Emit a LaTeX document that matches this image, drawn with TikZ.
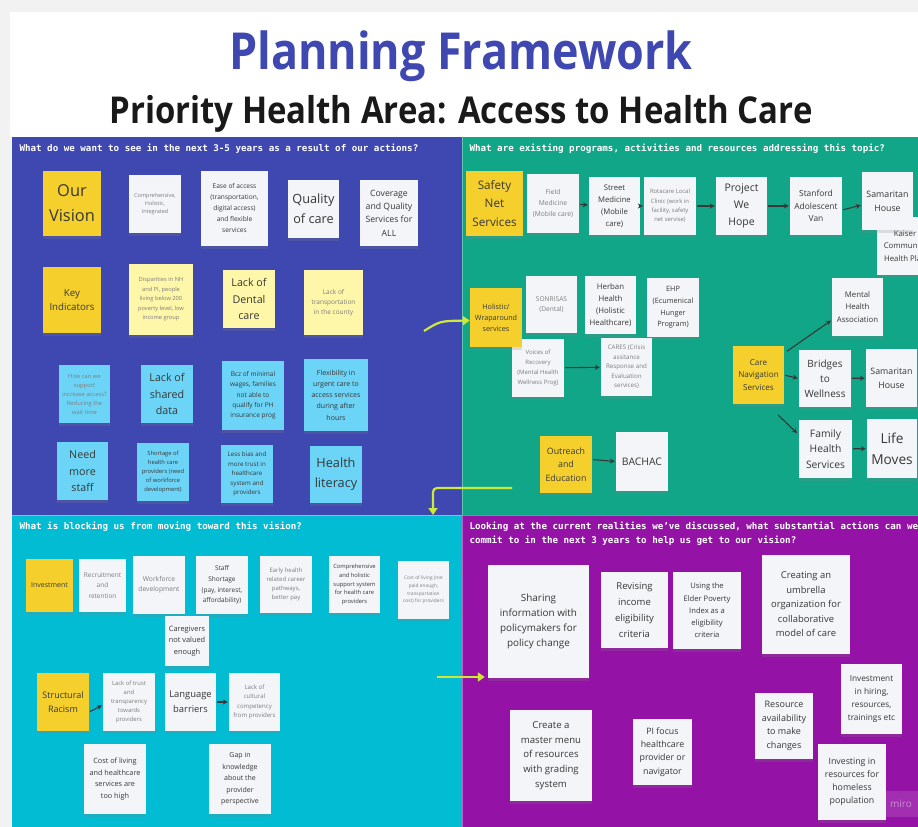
\documentclass[tikz,border=0pt]{standalone}
\usepackage{fontspec}
\setmainfont{Open Sans}
\newfontfamily\headfont{DejaVu Sans Mono}
\usepackage{graphicx}
\usepackage{tikz}
\usetikzlibrary{arrows.meta, shadows, positioning}

\definecolor{visionblue}{RGB}{63,72,176}
\definecolor{progteal}{RGB}{17,166,136}
\definecolor{blockcyan}{RGB}{2,188,212}
\definecolor{actpurple}{RGB}{148,19,166}
\definecolor{stickyyellow}{RGB}{245,208,45}
\definecolor{paleyellow}{RGB}{254,246,168}
\definecolor{skyblue}{RGB}{108,213,247}
\definecolor{paper}{RGB}{244,245,248}
\definecolor{limearrow}{RGB}{206,232,58}
\definecolor{inkdark}{RGB}{55,55,55}
\definecolor{inklight}{RGB}{125,125,125}
\definecolor{margin}{RGB}{242,242,242}

\newcommand\fs[2]{\fontsize{#1}{#2}\selectfont}

\tikzset{
  sticky/.style={inner sep=1pt, align=center, text=inkdark,
    drop shadow={shadow xshift=0pt, shadow yshift=-3pt, opacity=0.22}},
  yel/.style={sticky, fill=stickyyellow},
  pale/.style={sticky, fill=paleyellow},
  sky/.style={sticky, fill=skyblue},
  wht/.style={sticky, fill=paper},
  faint/.style={text=inklight},
  sz/.style 2 args={minimum width=#1pt, minimum height=#2pt},
  link/.style={-{Stealth[length=5pt,width=5pt]}, line width=1.1pt, draw=inkdark,
    shorten <=1pt, shorten >=1pt},
  flow/.style={-{Triangle[length=7pt,width=9pt]}, line width=2.2pt, draw=limearrow},
  question/.style={anchor=west, text=white, align=left,
    font=\headfont\bfseries\fs{9.2}{14}},
}

\begin{document}
\begin{tikzpicture}[x=1pt, y=-1pt]
    \useasboundingbox (0,0) rectangle (918,827);
    \clip (0,0) rectangle (918,827);

    % Page and title strip
    \fill[margin] (0,0) rectangle (918,827);
    \fill[white] (10,12) rectangle (918,137);
    \node[font=\bfseries\fs{51}{56}, text=visionblue] (title) at (461,56)
        {\scalebox{0.88}[1]{Planning Framework}};
    \node[font=\bfseries\fs{37}{40}, text=black!90] (subtitle) at (461,114)
        {\scalebox{0.89}[1]{Priority Health Area: Access to Health Care}};

    % Four quadrants
    \fill[visionblue] (12,137) rectangle (462,515);
    \fill[progteal] (462,137) rectangle (918,515);
    \fill[blockcyan] (12,515) rectangle (462,827);
    \fill[actpurple] (462,515) rectangle (918,827);
    \draw[white, opacity=0.35, line width=0.7pt] (462,137) -- (462,827) (12,515) -- (918,515);

    \node[question] (q1) at (16,149) {What do we want to see in the next 3-5 years as a result of our actions?};
    \node[question] (q2) at (466,149) {What are existing programs, activities and resources addressing this topic?};
    \node[question] (q3) at (16,527) {What is blocking us from moving toward this vision?};
    \node[question] (q4) at (466,534) {Looking at the current realities we’ve discussed, what substantial actions can we\\commit to in the next 3 years to help us get to our vision?};

    % Vision: row one
    \node[yel, sz={58}{65}, font=\fs{16.4}{25}] (vision) at (72,203.5) {Our\\Vision};
    \node[wht, faint, sz={52}{58}, font=\fs{5.5}{8.3}] (holistic) at (155,204) {Comprehensive,\\Holistic,\\Integrated};
    \node[wht, sz={67}{75}, font=\fs{6.6}{11}] (ease) at (234.5,208.5) {Ease of access\\(transportation,\\digital access)\\and flexible\\services};
    \node[wht, sz={51}{58}, font=\fs{12.7}{20}] (quality) at (313.5,209) {Quality\\of care};
    \node[wht, sz={58}{66}, font=\fs{8.7}{13.3}] (coverage) at (389,213) {Coverage\\and Quality\\Services for\\ALL};

    % Vision: indicators
    \node[yel, sz={58}{66}, font=\fs{9.7}{14.7}] (indicators) at (72,300) {Key\\Indicators};
    \node[pale, faint, sz={64}{71}, font=\fs{5.7}{9.5}] (disparities) at (161,299.5) {Disparities in NH\\and PI, people\\living below 200\\poverty level, low\\income group};
    \node[pale, sz={52}{58}, font=\fs{10.7}{16.2}] (dental) at (249,299) {Lack of\\Dental\\care};
    \node[pale, faint, sz={59}{65}, font=\fs{6.5}{9.8}] (transport) at (333.5,302.5) {Lack of\\transportation\\in the county};

    \node[sky, faint, sz={51}{58}, font=\fs{5.8}{9}] (waittime) at (84.5,394) {How can we\\support\\increase access?\\Reducing the\\wait time};
    \node[sky, sz={52}{58}, font=\fs{10.7}{16.2}] (shared) at (167,394) {Lack of\\shared\\data};
    \node[sky, sz={62}{69}, font=\fs{6.5}{10.25}] (wages) at (253,395.5) {Bcz of minimal\\wages, families\\not able to\\qualify for PH\\insurance prog};
    \node[sky, sz={64}{72}, font=\fs{7}{11.25}] (urgent) at (336,395) {Flexibility in\\urgent care to\\access services\\during after\\hours};

    \node[sky, sz={51}{58}, font=\fs{10.7}{16.2}] (staff) at (82.5,471) {Need\\more\\staff};
    \node[sky, sz={52}{58}, font=\fs{5.8}{8.9}] (shortage) at (163,472) {Shortage of\\health care\\providers (need\\of workforce\\development)};
    \node[sky, sz={52}{58}, font=\fs{6.2}{9.6}] (bias) at (247,474) {Less bias and\\more trust in\\healthcare\\system and\\providers};
    \node[sky, sz={52}{57}, font=\fs{12.7}{20}] (literacy) at (336,474.5) {Health\\literacy};

    % Programs: safety net chain
    \node[yel, sz={57}{65}, font=\fs{11.7}{18.3}] (safety) at (494.5,203.5) {Safety\\Net\\Services};
    \node[wht, faint, sz={52}{59}, font=\fs{6.7}{10.7}] (field) at (553,203.5) {Field\\Medicine\\(Mobile care)};
    \node[wht, sz={51}{58}, font=\fs{7.7}{12.1}] (street) at (614.5,206) {Street\\Medicine\\(Mobile\\care)};
    \node[wht, faint, sz={52}{58}, font=\fs{5.9}{9.2}] (rotacare) at (670,206) {Rotacare Local\\Clinic (work in\\facility, safety\\net servise)};
    \node[wht, sz={51}{58}, font=\fs{10.5}{16.7}] (wehope) at (741.5,206) {Project\\We\\Hope};
    \node[wht, sz={52}{58}, font=\fs{8.4}{12.7}] (stanford) at (816,206) {Stanford\\Adolescent\\Van};
    \node[wht, sz={56}{58}, font=\fs{7.8}{12.2}] (kaiser) at (905,246) {Kaiser\\Community\\Health Plan};
    \node[wht, sz={51}{58}, font=\fs{8.8}{14}] (samaritan) at (887.5,201) {Samaritan\\House};
    \draw[link] (field) -- (street);
    \draw[link] (street) -- (rotacare);
    \draw[link] (rotacare) -- (wehope);
    \draw[link] (wehope) -- (stanford);
    \draw[link] ([yshift=-4pt]stanford.east) -- ([yshift=-4pt]samaritan.west);

    % Programs: wraparound
    \node[wht, faint, sz={52}{58}, font=\fs{6}{9.8}] (voices) at (538,368) {Voices of\\Recovery\\(Mental Health\\Wellness Prog)};
    \node[yel, sz={52}{59}, font=\fs{7.2}{11.2}] (wrap) at (496,317.5) {Holistic/\\Wraparound\\services};
    \node[wht, faint, sz={51}{57}, font=\fs{6.6}{10.7}] (sonrisas) at (551.5,304.5) {SONRISAS\\(Dental)};
    \node[wht, sz={51}{58}, font=\fs{7.8}{12.2}] (herban) at (610.5,305) {Herban\\Health\\(Holistic\\Healthcare)};
    \node[wht, sz={52}{59}, font=\fs{7.3}{11.7}] (ehp) at (673,307.5) {EHP\\(Ecumenical\\Hunger\\Program)};
    \node[wht, faint, sz={51}{58}, font=\fs{6.2}{9.4}] (cares) at (626.5,367) {CARES (Crisis\\assitance\\Response and\\Evaluation\\services)};
    \draw[link] (voices) -- (cares);

    % Programs: care navigation
    \node[wht, sz={51}{58}, font=\fs{7.8}{12.3}] (mha) at (857.5,307) {Mental\\Health\\Association};
    \node[yel, sz={51}{58}, font=\fs{8.1}{12.8}] (carenav) at (758.5,375) {Care\\Navigation\\Services};
    \node[wht, sz={52}{57}, font=\fs{10}{15}] (bridges) at (825,378.5) {Bridges\\to\\Wellness};
    \node[wht, sz={51}{58}, font=\fs{8.8}{14}] (samaritanb) at (891.5,378) {Samaritan\\House};
    \node[wht, sz={53}{58}, font=\fs{10.3}{15.8}] (family) at (825.5,449) {Family\\Health\\Services};
    \node[wht, sz={50}{59}, font=\fs{13.7}{21}] (lifemoves) at (892,448.5) {Life\\Moves};
    \draw[link] ([shift={(2,6)}]carenav.north east) -- ([yshift=-13pt]mha.west);
    \draw[link] (carenav.east) -- (bridges.west);
    \draw[link] (bridges) -- (samaritanb);
    \draw[link] ([shift={(-7,10)}]carenav.south east) -- ([shift={(-1,14)}]family.north west);
    \draw[link] (family) -- (lifemoves);

    % Programs: outreach
    \node[yel, sz={52}{57}, font=\fs{8.8}{13.7}] (outreach) at (566,464.5) {Outreach\\and\\Education};
    \node[wht, sz={52}{59}, font=\fs{10.4}{14}] (bachac) at (642,461.5) {BACHAC};
    \draw[link] ([yshift=5pt]outreach.east) -- (bachac.west);

    % Barriers: workforce row
    \node[yel, sz={47}{53}, font=\fs{7}{10}] (investment) at (49.5,585.5) {Investment};
    \node[wht, faint, sz={47}{53}, font=\fs{6.5}{10.2}] (recruit) at (102.5,585.5) {Recruitment\\and\\retention};
    \node[wht, faint, sz={52}{58}, font=\fs{6.7}{10.3}] (workforce) at (159,585) {Workforce\\development};
    \node[wht, sz={52}{58}, font=\fs{6.5}{10.6}] (shortstaff) at (222,585) {Staff\\Shortage\\(pay, interest,\\affordability)};
    \node[wht, faint, sz={52}{57}, font=\fs{6}{9.1}] (pathways) at (286,584.5) {Early health\\related career\\pathways,\\better pay};
    \node[wht, sz={51}{57}, font=\fs{5.8}{8.75}] (support) at (354.5,584.5) {Comprehensive\\and holistic\\support system\\for health care\\providers};
    \node[wht, faint, sz={51}{58}, font=\fs{4.8}{7.7}] (livingcost) at (423.5,590) {Cost of living (not\\paid enough,\\transportation\\cost) for providers};
    \node[wht, sz={44}{50}, font=\fs{7.4}{11.2}] (caregivers) at (187,641) {Caregivers\\not valued\\enough};

    % Barriers: racism row
    \node[yel, sz={52}{58}, font=\fs{9}{13.3}] (racism) at (63,702) {Structural\\Racism};
    \node[wht, faint, sz={52}{58}, font=\fs{5.9}{9.2}] (trust) at (129,702) {Lack of trust\\and\\transparency\\towards\\providers};
    \node[wht, sz={51}{58}, font=\fs{9.4}{14.7}] (language) at (190.5,702) {Language\\barriers};
    \node[wht, faint, sz={51}{58}, font=\fs{6.1}{9.3}] (cultural) at (254.5,702) {Lack of\\cultural\\competency\\from providers};
    \node[wht, sz={62}{70}, font=\fs{7.3}{11.4}] (toohigh) at (115,779) {Cost of living\\and healthcare\\services are\\too high};
    \node[wht, sz={62}{70}, font=\fs{7}{11.4}] (gap) at (240,779) {Gap in\\knowledge\\about the\\provider\\perspective};
    \draw[link] ([yshift=-10pt]racism.east) -- ([yshift=-3pt]trust.west);
    \draw[link] (language) -- (cultural);

    % Actions
    \node[wht, sz={101}{113}, font=\fs{9.9}{15}] (share) at (538.5,621.5) {Sharing\\information with\\policymakers for\\policy change};
    \node[wht, sz={67}{76}, font=\fs{9.5}{16}] (revise) at (634.5,610) {Revising\\income\\eligibility\\criteria};
    \node[wht, sz={68}{77}, font=\fs{7.6}{12.25}] (elder) at (707,610.5) {Using the\\Elder Poverty\\Index as a\\eligibility\\criteria};
    \node[wht, sz={88}{99}, font=\fs{9.4}{14.5}] (umbrella) at (806,604.5) {Creating an\\umbrella\\organization for\\collaborative\\model of care};
    \node[wht, sz={61}{70}, font=\fs{8.3}{13.3}] (hiring) at (871.5,699) {Investment\\in hiring,\\resources,\\trainings etc};
    \node[wht, sz={82}{91}, font=\fs{9.6}{14.6}] (menu) at (551,755.5) {Create a\\master menu\\of resources\\with grading\\system};
    \node[wht, sz={59}{66}, font=\fs{8.8}{13.3}] (pifocus) at (662.5,752) {PI focus\\healthcare\\provider or\\navigator};
    \node[wht, sz={58}{66}, font=\fs{9}{13.7}] (availability) at (784,726) {Resource\\availability\\to make\\changes};
    \node[wht, sz={68}{76}, font=\fs{8.8}{13.1}] (homeless) at (852,782) {Investing in\\resources for\\homeless\\population};

    % Flow between quadrants
    \coordinate (toWrap) at (424,331);
    \coordinate (elbow) at (512,488);
    \coordinate (toBlock) at (433,515);
    \coordinate (toShare) at (437,677);
    \draw[flow] (toWrap) .. controls (440,321) .. ([yshift=-3pt]wrap.west);
    \draw[flow, rounded corners=4pt] (elbow) -| (toBlock);
    \draw[flow, shorten >=3pt] (toShare) -- (share.west |- toShare);

    % Watermark
    \fill[white, opacity=0.12] (885,791) rectangle (918,817);
    \node[text=white, opacity=0.45, font=\fs{10}{12}] (miro) at (901,804) {miro};
\end{tikzpicture}
\end{document}
